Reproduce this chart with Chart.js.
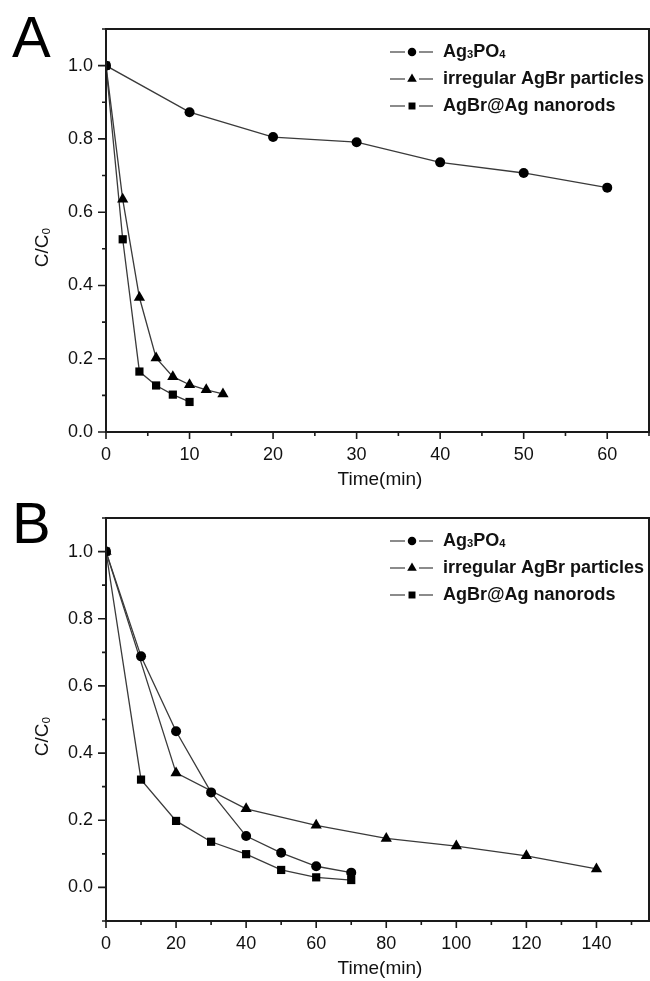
<!DOCTYPE html>
<html lang="en">
<head>
<meta charset="UTF-8">
<title>Photocatalytic degradation C/C0 vs time</title>
<script src="https://cdn.jsdelivr.net/npm/chart.js"></script>
<style>
  body { margin: 0; background: #fff; width: 650px; height: 981px; position: relative; overflow: hidden; }
  canvas { position: absolute; left: 0; }
  #chartA { top: 0; }
  #chartB { top: 490px; }
</style>
</head>
<body>
<canvas id="chartA" width="650" height="490"></canvas>
<canvas id="chartB" width="650" height="491"></canvas>
<script>
// series shared by both panels
const seriesNames = ['Ag3PO4', 'irregular AgBr particles', 'AgBr@Ag nanorods'];
const markerStyles = ['circle', 'triangle', 'rect'];
const markerRadius = [5, 6.5, 5.8];

// panel A - time (min) and C/C0
const timeA_Ag3PO4 = [0, 10, 20, 30, 40, 50, 60];
const cA_Ag3PO4 = [1.0, 0.873, 0.805, 0.791, 0.736, 0.707, 0.667];
const timeA_AgBr = [0, 2, 4, 6, 8, 10, 12, 14];
const cA_AgBr = [1.0, 0.635, 0.367, 0.202, 0.151, 0.129, 0.115, 0.104];
const timeA_rods = [0, 2, 4, 6, 8, 10];
const cA_rods = [1.0, 0.526, 0.165, 0.127, 0.102, 0.082];

// panel B
const timeB_Ag3PO4 = [0, 10, 20, 30, 40, 50, 60, 70];
const cB_Ag3PO4 = [1.0, 0.688, 0.465, 0.283, 0.153, 0.103, 0.063, 0.044];
const timeB_AgBr = [0, 20, 40, 60, 80, 100, 120, 140];
const cB_AgBr = [1.0, 0.341, 0.234, 0.185, 0.146, 0.123, 0.094, 0.055];
const timeB_rods = [0, 10, 20, 30, 40, 50, 60, 70];
const cB_rods = [1.0, 0.321, 0.198, 0.136, 0.099, 0.052, 0.030, 0.022];

const xTitle = 'Time(min)';
const yTitle = 'C/C0';

const FONT = '"Liberation Sans", Arial, Helvetica, sans-serif';

// text where digits are drawn as subscripts (Ag3PO4, C/C0)
function subParts(text) { return text.match(/\d+|\D+/g) || []; }
function measureSub(ctx, text, size, bold) {
  let w = 0;
  for (const p of subParts(text)) {
    const sub = /^\d/.test(p);
    ctx.font = (bold ? 'bold ' : '') + (sub ? size * 0.62 : size) + 'px ' + FONT;
    w += ctx.measureText(p).width;
  }
  return w;
}
function drawSub(ctx, text, x, y, size, bold) {
  let cx = x;
  for (const p of subParts(text)) {
    const sub = /^\d/.test(p);
    ctx.font = (bold ? 'bold ' : '') + (sub ? size * 0.62 : size) + 'px ' + FONT;
    ctx.fillText(p, cx, sub ? y + size * 0.18 : y);
    cx += ctx.measureText(p).width;
  }
}

function drawMarker(ctx, style, x, y, r) {
  ctx.beginPath();
  if (style === 'circle') {
    ctx.arc(x, y, r, 0, Math.PI * 2);
  } else if (style === 'triangle') {
    ctx.moveTo(x, y - r);
    ctx.lineTo(x + r * 0.866, y + r * 0.5);
    ctx.lineTo(x - r * 0.866, y + r * 0.5);
    ctx.closePath();
  } else {
    const s = r * Math.SQRT1_2;
    ctx.rect(x - s, y - s, 2 * s, 2 * s);
  }
  ctx.fill();
}

// frame, tick marks, titles, legend, panel letter
const decorPlugin = {
  id: 'decor',
  afterDraw(chart, args, opts) {
    const { ctx, chartArea: a, scales: { x, y } } = chart;
    ctx.save();
    ctx.strokeStyle = '#1a1a1a';
    ctx.lineWidth = 2;
    ctx.strokeRect(a.left, a.top, a.right - a.left, a.bottom - a.top);

    ctx.lineWidth = 1.6;
    ctx.beginPath();
    x.ticks.forEach(t => {
      const px = x.getPixelForValue(t.value);
      const len = t.label !== '' ? 7 : 4;
      ctx.moveTo(px, a.bottom); ctx.lineTo(px, a.bottom + len);
    });
    y.ticks.forEach(t => {
      const py = y.getPixelForValue(t.value);
      const len = t.label !== '' ? 8 : 4;
      ctx.moveTo(a.left, py); ctx.lineTo(a.left - len, py);
    });
    ctx.stroke();

    ctx.fillStyle = '#111';
    ctx.textBaseline = 'middle';
    ctx.textAlign = 'center';
    ctx.font = '19px ' + FONT;
    ctx.fillText(xTitle, 380, a.bottom + 48);

    ctx.save();
    ctx.translate(43, (a.top + a.bottom) / 2 + 17);
    ctx.rotate(-Math.PI / 2);
    ctx.textAlign = 'left';
    const tw = measureSub(ctx, yTitle, 19, false);
    drawSub(ctx, yTitle, -tw / 2, 0, 19, false);
    ctx.restore();

    // legend: short line, marker, short line, label
    ctx.textAlign = 'left';
    const rows = [23, 50, 77];
    chart.data.datasets.forEach((ds, i) => {
      const ly = a.top + rows[i];
      ctx.strokeStyle = '#666';
      ctx.lineWidth = 1.3;
      ctx.beginPath();
      ctx.moveTo(390, ly); ctx.lineTo(405, ly);
      ctx.moveTo(419, ly); ctx.lineTo(433, ly);
      ctx.stroke();
      ctx.fillStyle = '#000';
      drawMarker(ctx, markerStyles[i], 412, ly, markerRadius[i] * 0.85);
      ctx.fillStyle = '#111';
      drawSub(ctx, ds.label, 443, ly, 18, true);
    });

    ctx.textBaseline = 'alphabetic';
    ctx.font = '58px ' + FONT;
    ctx.fillStyle = '#000';
    ctx.fillText(opts.letter, 12, opts.letterY);
    ctx.restore();
  }
};

function makeDatasets(times, values) {
  return seriesNames.map((name, i) => ({
    label: name,
    data: times[i].map((t, j) => ({ x: t, y: values[i][j] })),
    borderColor: '#3a3a3a',
    borderWidth: 1.3,
    pointStyle: markerStyles[i],
    pointRadius: markerRadius[i],
    pointBackgroundColor: '#000',
    pointBorderColor: '#000',
    pointBorderWidth: 0,
    tension: 0,
    fill: false
  }));
}

function makeChart(id, datasets, xMax, xStep, xMajor, yMin, topPad, xHeight, letter, letterY) {
  return new Chart(document.getElementById(id), {
    type: 'line',
    data: { datasets: datasets },
    options: {
      responsive: false,
      animation: false,
      layout: { autoPadding: false, padding: { top: topPad, right: 1, left: 0, bottom: 0 } },
      plugins: { legend: { display: false }, tooltip: { enabled: false }, decor: { letter: letter, letterY: letterY } },
      scales: {
        x: {
          type: 'linear', min: 0, max: xMax,
          grid: { display: false, drawTicks: false },
          border: { display: false },
          ticks: {
            stepSize: xStep, includeBounds: false, autoSkip: false, maxRotation: 0,
            padding: 12, color: '#111', font: { family: FONT, size: 18 },
            callback: v => (Math.round(v) % xMajor === 0 ? String(Math.round(v)) : '')
          },
          afterFit: s => { s.height = xHeight; s.paddingLeft = 0; s.paddingRight = 0; }
        },
        y: {
          type: 'linear', min: yMin, max: 1.1,
          grid: { display: false, drawTicks: false },
          border: { display: false },
          ticks: {
            stepSize: 0.1, includeBounds: false, autoSkip: false,
            padding: 13, color: '#111', font: { family: FONT, size: 18 },
            callback: v => { const k = Math.round(v * 10); return k % 2 === 0 ? (k / 10).toFixed(1) : ''; }
          },
          afterFit: s => { s.width = 106; s.paddingTop = 0; s.paddingBottom = 0; }
        }
      }
    },
    plugins: [decorPlugin]
  });
}

makeChart('chartA',
  makeDatasets([timeA_Ag3PO4, timeA_AgBr, timeA_rods], [cA_Ag3PO4, cA_AgBr, cA_rods]),
  65, 5, 10, 0, 29, 58, 'A', 57);

makeChart('chartB',
  makeDatasets([timeB_Ag3PO4, timeB_AgBr, timeB_rods], [cB_Ag3PO4, cB_AgBr, cB_rods]),
  155, 10, 20, -0.1, 28, 60, 'B', 53);
</script>
</body>
</html>
